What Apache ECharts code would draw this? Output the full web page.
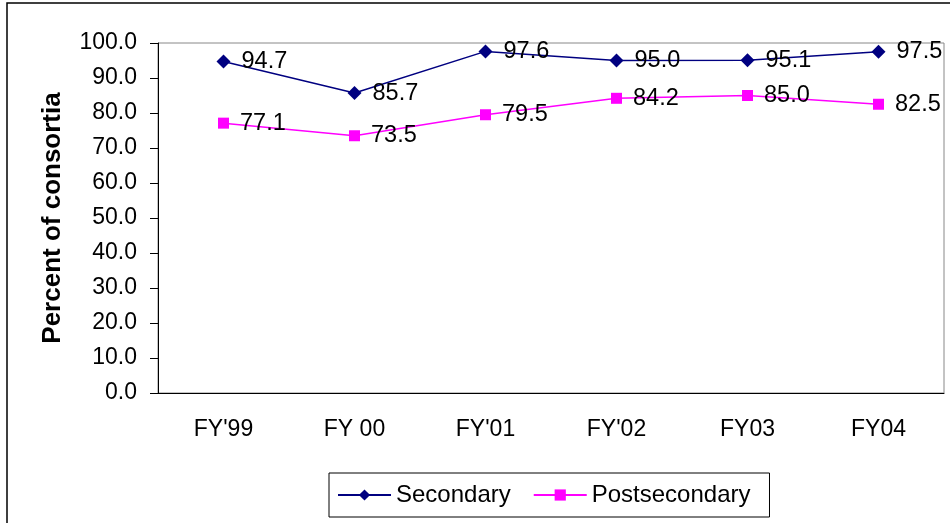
<!DOCTYPE html>
<html>
<head>
<meta charset="utf-8">
<script src="https://cdn.jsdelivr.net/npm/echarts@6/dist/echarts.min.js"></script>
<style>
  html, body { margin: 0; padding: 0; background: #fff; }
  #chart { width: 950px; height: 523px; }
</style>
</head>
<body>
<div id="chart"></div>
<script>
  // 数据
  const categories = ["FY'99", 'FY 00', "FY'01", "FY'02", 'FY03', 'FY04']
  const secondary = [94.7, 85.7, 97.6, 95.0, 95.1, 97.5]
  const postsecondary = [77.1, 73.5, 79.5, 84.2, 85.0, 82.5]
  const seriesNames = ['Secondary', 'Postsecondary']

  const font = '"Liberation Sans", Arial, sans-serif'
  const myChart = echarts.init(document.getElementById('chart'))

  const labelStyle = {
    show: true,
    position: 'right',
    distance: 11,
    color: '#000',
    fontFamily: font,
    fontSize: 23.5,
    formatter: p => p.value.toFixed(1)
  }

  const option = {
    animation: false,
    backgroundColor: '#fff',
    graphic: [
      {
        type: 'rect',
        shape: { x: 7, y: 3, width: 960, height: 540 },
        style: { fill: 'none', stroke: '#000', lineWidth: 1.5 },
        silent: true
      }
    ],
    grid: {
      left: 158,
      right: 6,
      top: 43,
      bottom: 130,
      show: true,
      borderColor: '#888',
      borderWidth: 1
    },
    legend: {
      data: seriesNames,
      left: 329,
      top: 473,
      padding: [10, 19, 10, 8],
      itemGap: 22,
      itemWidth: 53,
      itemHeight: 14,
      borderColor: '#000',
      borderWidth: 1,
      textStyle: { color: '#000', fontFamily: font, fontSize: 24 }
    },
    xAxis: {
      type: 'category',
      data: categories,
      boundaryGap: true,
      axisLine: { lineStyle: { color: '#000', width: 1 } },
      axisTick: { length: 8, lineStyle: { color: '#000' } },
      axisLabel: { margin: 25, color: '#000', fontFamily: font, fontSize: 23 }
    },
    yAxis: {
      type: 'value',
      min: 0,
      max: 100,
      interval: 10,
      name: 'Percent of consortia',
      nameLocation: 'middle',
      nameGap: 92,
      nameTextStyle: { color: '#000', fontFamily: font, fontSize: 26, fontWeight: 'bold' },
      axisLine: { show: true, lineStyle: { color: '#000', width: 1 } },
      axisTick: { show: true, length: 8, lineStyle: { color: '#000' } },
      splitLine: { show: false },
      axisLabel: {
        margin: 21,
        color: '#000',
        fontFamily: font,
        fontSize: 23,
        formatter: v => v.toFixed(1)
      }
    },
    series: [
      {
        name: seriesNames[0],
        type: 'line',
        data: secondary,
        symbol: 'diamond',
        symbolSize: 14,
        itemStyle: { color: '#000080' },
        lineStyle: { color: '#000080', width: 1.5 },
        label: labelStyle
      },
      {
        name: seriesNames[1],
        type: 'line',
        data: postsecondary,
        symbol: 'rect',
        symbolSize: 11,
        itemStyle: { color: '#ff00ff' },
        lineStyle: { color: '#ff00ff', width: 1.5 },
        label: labelStyle
      }
    ]
  }
  myChart.setOption(option)
</script>
</body>
</html>
